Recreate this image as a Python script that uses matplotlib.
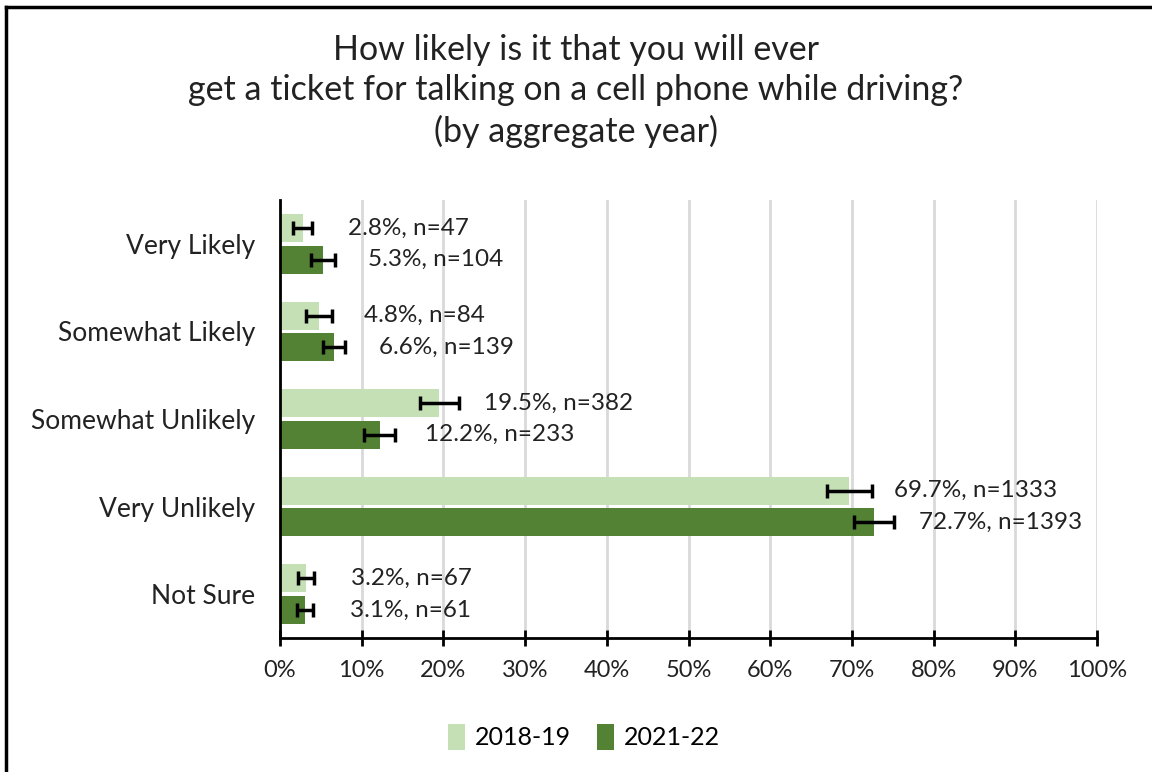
import matplotlib.pyplot as plt
import numpy as np
from matplotlib.lines import Line2D

categories = ['Very Likely', 'Somewhat Likely', 'Somewhat Unlikely', 'Very Unlikely', 'Not Sure']
series_names = ['2018-19', '2021-22']
vals_1819 = [2.8, 4.8, 19.5, 69.7, 3.2]
vals_2122 = [5.3, 6.6, 12.2, 72.7, 3.1]
err_1819 = [1.15, 1.6, 2.35, 2.75, 1.0]
err_2122 = [1.45, 1.35, 1.9, 2.4, 1.0]
n_1819 = [47, 84, 382, 1333, 67]
n_2122 = [104, 139, 233, 1393, 61]
colors = ['#C5E0B4', '#548235']

plt.rcParams['font.family'] = ['Lato', 'DejaVu Sans']

fig = plt.figure(figsize=[11.52, 7.72], dpi=100)
ax = fig.add_axes([280/1152, 1-638/772, 817/1152, 438/772])

y = np.arange(len(categories))
h = 0.32
off = 0.18
series = [(vals_1819, err_1819, n_1819, -off), (vals_2122, err_2122, n_2122, off)]
for i, (v, e, n, d) in enumerate(series):
    ax.barh(y + d, v, height=h, color=colors[i], label=series_names[i], zorder=2)
    ax.errorbar(v, y + d, xerr=e, fmt='none', ecolor='black', elinewidth=2.5,
                capsize=5, capthick=2.5, zorder=3)
    for yy, vv, nn in zip(y + d, v, n):
        ax.text(vv + 5.5, yy, f'{vv:.1f}%, n={nn}', va='center', ha='left', fontsize=17.5,
                color='#222222')

ax.set_xlim(0, 100)
ax.set_ylim(4.5, -0.5)
ax.set_xticks(np.arange(0, 101, 10))
ax.set_xticklabels([f'{t}%' for t in range(0, 101, 10)], fontsize=17, color='#222222')
ax.set_yticks(y)
ax.set_yticklabels(categories, fontsize=19, color='#222222')
ax.tick_params(axis='y', length=0, pad=18)
ax.tick_params(axis='x', direction='inout', length=12, width=2, pad=10)
ax.grid(axis='x', color='#D9D9D9', lw=2, zorder=0)
ax.set_axisbelow(True)
for s in ['top', 'right']:
    ax.spines[s].set_visible(False)
ax.spines['left'].set_linewidth(2)
ax.spines['bottom'].set_linewidth(2)

fig.text(0.5, 1-50/772, 'How likely is it that you will ever', ha='center', va='center', fontsize=24.5, color='#222222')
fig.text(0.5, 1-90/772, 'get a ticket for talking on a cell phone while driving?', ha='center', va='center', fontsize=24.5, color='#222222')
fig.text(0.5, 1-131/772, '(by aggregate year)', ha='center', va='center', fontsize=24.5, color='#222222')

handles, labels = ax.get_legend_handles_labels()
fig.legend(handles, labels, loc='center', bbox_to_anchor=(584/1152, 1-737/772), ncol=2, frameon=False,
           fontsize=18, handlelength=0.7, handleheight=1.2, columnspacing=1.0, handletextpad=0.4)

fig.add_artist(Line2D([6/1152, 6/1152], [0, 1-7/772], color='black', lw=2.5, transform=fig.transFigure))
fig.add_artist(Line2D([6/1152, 1], [1-7/772, 1-7/772], color='black', lw=2.5, transform=fig.transFigure))

fig.savefig('out.png', dpi=100)
